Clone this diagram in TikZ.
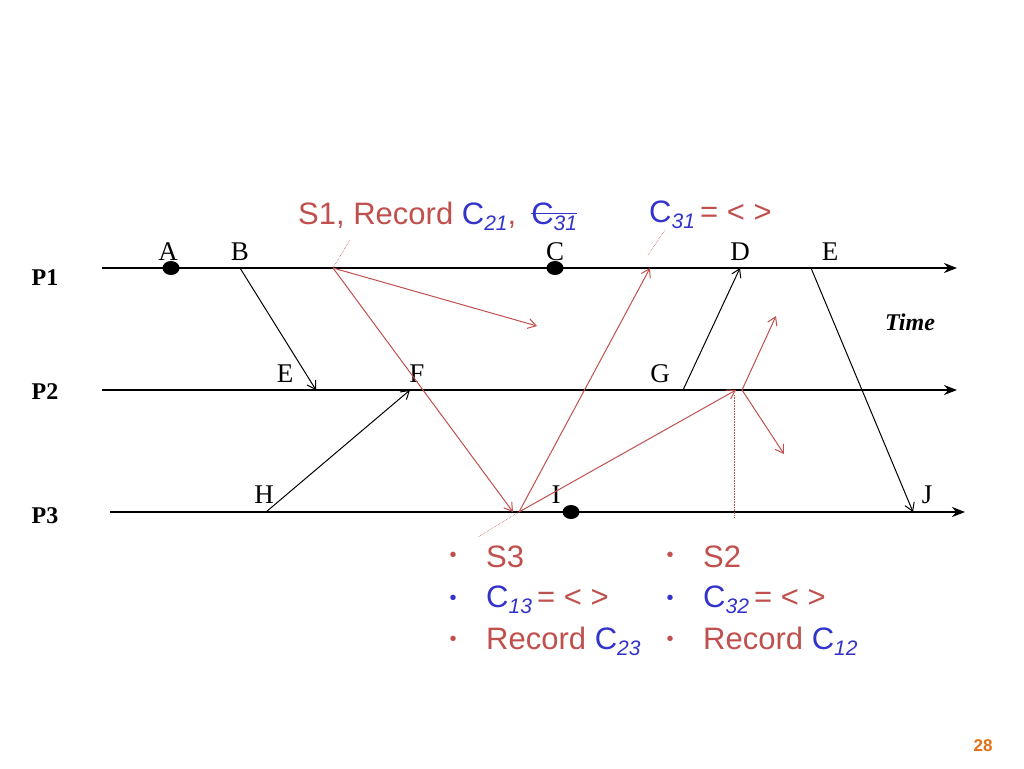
\documentclass[tikz,border=0pt]{standalone}
\usepackage{fontspec}
\setmainfont{Liberation Serif}
\newfontfamily\sans{Liberation Sans}
\usetikzlibrary{arrows.meta,shapes.geometric,calc}
\definecolor{rd}{RGB}{192,80,77}
\definecolor{bl}{RGB}{51,51,204}
\definecolor{org}{RGB}{230,110,20}
\tikzset{
 proc/.style={line width=2.6pt,-{Stealth[length=13pt,width=10pt]}},
 msg/.style={line width=1pt,-{Straight Barb[length=8pt,width=10pt]}},
 rmsg/.style={msg,draw=rd},
 lbl/.style={font=\fontsize{27}{27}\selectfont,inner sep=0pt},
 plbl/.style={font=\fontsize{24}{24}\selectfont\bfseries,inner sep=0pt},
 evdot/.style={ellipse,fill=black,minimum width=17pt,minimum height=14pt,inner sep=0pt},
 lead/.style={draw=rd,densely dotted,line width=0.6pt},
 stxt/.style={font=\sans\fontsize{31}{33}\selectfont,inner sep=0pt,anchor=west},
}
\newcommand{\sbs}[1]{\raisebox{-6pt}{\textit{\sans\fontsize{21}{21}\selectfont #1}}}
\begin{document}
\begin{tikzpicture}[x=1pt,y=-1pt]
\useasboundingbox (0,0) rectangle (1024,768);
% process lines
\coordinate (p1s) at (102,268); \coordinate (p1e) at (957,268);
\coordinate (p2s) at (102,390); \coordinate (p2e) at (957,390);
\coordinate (p3s) at (110,512); \coordinate (p3e) at (965,512);
\draw[proc] (p1s) -- (p1e);
\draw[proc] (p2s) -- (p2e);
\draw[proc] (p3s) -- (p3e);
\node[plbl] (P1) at (45,278) {P1};
\node[plbl] (P2) at (45,392) {P2};
\node[plbl] (P3) at (45,516) {P3};
\node[font=\fontsize{24}{24}\selectfont\bfseries\itshape,inner sep=0pt] (time) at (910,322) {Time};
% dots
\node[evdot] (dA) at (171,268) {};
\node[evdot] (dC) at (555,268) {};
\node[evdot] (dI) at (571,512) {};
% letters
\node[lbl] (lA) at (168,252) {A};
\node[lbl] (lB) at (240,252) {B};
\node[lbl] (lC) at (555,252) {C};
\node[lbl] (lD) at (740,252) {D};
\node[lbl] (lE) at (830,252) {E};
\node[lbl] (lE2) at (285,374) {E};
\node[lbl] (lF) at (417,374) {F};
\node[lbl] (lG) at (660,374) {G};
\node[lbl] (lH) at (264,495) {H};
\node[lbl] (lI) at (556,495) {I};
\node[lbl] (lJ) at (927,495) {J};
% coordinates of events
\coordinate (b1) at (240,268); \coordinate (e2) at (316,390);
\coordinate (h3) at (266,512); \coordinate (f2) at (410,390);
\coordinate (g2) at (683,390); \coordinate (d1) at (740,268);
\coordinate (e1) at (811,268); \coordinate (j3) at (913,512);
\coordinate (s1) at (333,268); \coordinate (m1) at (537,326);
\coordinate (m2) at (513,512); \coordinate (s3) at (519,512);
\coordinate (m3) at (650,268); \coordinate (m4) at (736,390);
\coordinate (s2) at (742,390); \coordinate (m5) at (776,316);
\coordinate (m6) at (784,454);
% black messages
\draw[msg] (b1) -- (e2);
\draw[msg] (h3) -- (f2);
\draw[msg] (g2) -- (d1);
\draw[msg] (e1) -- (j3);
% red markers
\draw[rmsg] (s1) -- (m1);
\draw[rmsg] (s1) -- (m2);
\draw[rmsg] (s3) -- (m3);
\draw[rmsg] (s3) -- (m4);
\draw[rmsg] (s2) -- (m5);
\draw[rmsg] (s2) -- (m6);
% leaders
\coordinate (l1) at (350,240); \coordinate (l2a) at (648,255); \coordinate (l2b) at (665,230);
\coordinate (l3) at (478,537); \coordinate (l4a) at (734,395); \coordinate (l4b) at (734,518);
\draw[lead] (s1) -- (l1);
\draw[lead] (l2a) -- (l2b);
\draw[lead] (s3) -- (l3);
\draw[lead] (l4a) -- (l4b);
% annotations
\node[stxt,text=rd] (t1) at (298,218) {S1, Record \textcolor{bl}{C\sbs{21}}, \strut};
\node[font=\sans\fontsize{31}{33}\selectfont,inner sep=0pt,anchor=base west,text=bl] (t1b) at ($(t1.base east)+(6,0)$) {C\sbs{31}};
\draw[bl,line width=1.2pt] ($(t1b.base west)+(0,-11)$) -- ($(t1b.base east)+(0,-11)$);
\node[stxt,text=bl] (t2) at (649,215) {C\sbs{31}\,\textcolor{rd}{= < >}};
\node[font=\sans\fontsize{20}{20}\selectfont,text=rd,inner sep=0pt] (b31) at (453,557) {•};
\node[stxt,text=rd] (t31) at (486,557) {S3};
\node[font=\sans\fontsize{20}{20}\selectfont,text=bl,inner sep=0pt] (b32) at (453,600) {•};
\node[stxt,text=bl] (t32) at (486,600) {C\sbs{13}\,\textcolor{rd}{= < >}};
\node[font=\sans\fontsize{20}{20}\selectfont,text=rd,inner sep=0pt] (b33) at (453,641) {•};
\node[stxt,text=rd] (t33) at (486,641) {Record \textcolor{bl}{C\sbs{23}}};
\node[font=\sans\fontsize{20}{20}\selectfont,text=rd,inner sep=0pt] (b21) at (670,557) {•};
\node[stxt,text=rd] (t21) at (703,557) {S2};
\node[font=\sans\fontsize{20}{20}\selectfont,text=bl,inner sep=0pt] (b22) at (670,600) {•};
\node[stxt,text=bl] (t22) at (703,600) {C\sbs{32}\,\textcolor{rd}{= < >}};
\node[font=\sans\fontsize{20}{20}\selectfont,text=rd,inner sep=0pt] (b23) at (670,641) {•};
\node[stxt,text=rd] (t23) at (703,641) {Record \textcolor{bl}{C\sbs{12}}};
\node[font=\sans\bfseries\fontsize{17}{17}\selectfont,text=org,inner sep=0pt] (pg) at (983,746) {28};
\end{tikzpicture}
\end{document}
